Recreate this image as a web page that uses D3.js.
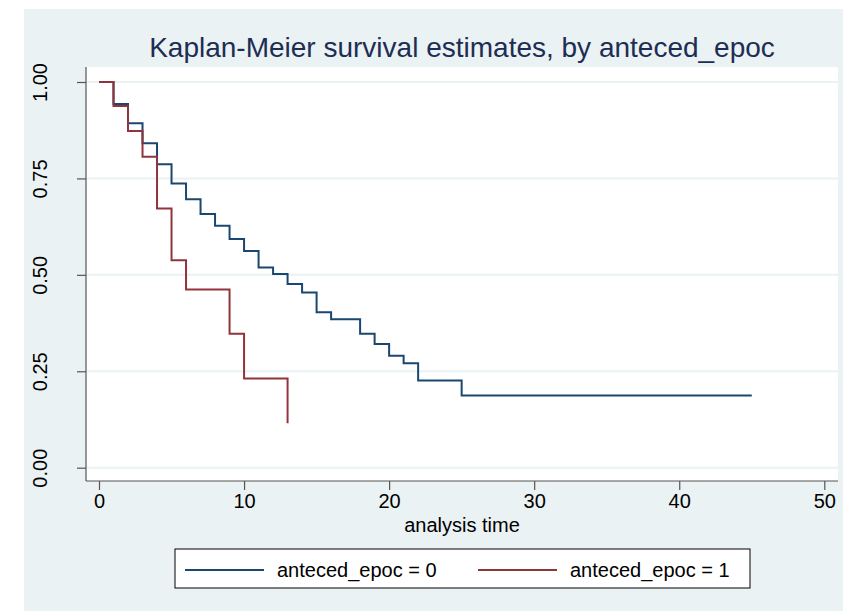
<!DOCTYPE html>
<html>
<head>
<meta charset="utf-8">
<script src="https://cdn.jsdelivr.net/npm/d3@7"></script>
<style>
  body { margin: 0; background: #ffffff; }
  text { font-family: "Liberation Sans", Arial, sans-serif; }
</style>
</head>
<body>
<div class="forSvg"></div>
<script>
// size of the page
const svg_w = 848;
const svg_h = 611;

// plot region (white box) edges
const plotLeft = 86;
const plotRight = 838;
const plotTop = 67;
const plotBottom = 481;

// data
const timesGroup0 = [0, 1, 2, 3, 4, 5, 6, 7, 8, 9, 10, 11, 12, 13, 14, 15, 16, 18, 19, 20, 21, 22, 25, 45];
const survGroup0 = [1, 0.943, 0.893, 0.841, 0.787, 0.737, 0.696, 0.658, 0.627, 0.593, 0.562, 0.519, 0.502, 0.476, 0.454, 0.403, 0.385, 0.347, 0.321, 0.290, 0.271, 0.226, 0.187, 0.187];
const timesGroup1 = [0, 1, 2, 3, 4, 5, 6, 9, 10, 13];
const survGroup1 = [1, 0.938, 0.873, 0.806, 0.672, 0.538, 0.462, 0.347, 0.231, 0.115];

const xTicks = [0, 10, 20, 30, 40, 50];
const yTicks = [0, 0.25, 0.5, 0.75, 1];
const legendLabels = ["anteced_epoc = 0", "anteced_epoc = 1"];
const lineColors = ["#1a476f", "#90353b"];

const xScale = d3.scaleLinear()
                .domain([0, 50])
                .range([99, 824.3]);

const yScale = d3.scaleLinear()
                .domain([0, 1])
                .range([467.7, 82]);

const svg = d3.select(".forSvg")
                .append("svg")
                .attr("width", svg_w)
                .attr("height", svg_h);

// light graph region
svg.append("rect")
    .attr("x", 24).attr("y", 9)
    .attr("width", 819).attr("height", svg_h - 9)
    .attr("fill", "#eaf2f3");

// white plot region
svg.append("rect")
    .attr("x", plotLeft).attr("y", plotTop)
    .attr("width", plotRight - plotLeft).attr("height", plotBottom - plotTop)
    .attr("fill", "#ffffff");

// grid lines
svg.selectAll(".grid")
    .data(yTicks)
    .enter()
    .append("line")
    .attr("class", "grid")
    .attr("x1", plotLeft).attr("x2", plotRight)
    .attr("y1", d => yScale(d)).attr("y2", d => yScale(d))
    .attr("stroke", "#eaf2f3")
    .attr("stroke-width", 2);

// x axis
const xAxis = d3.axisBottom(xScale)
                .tickValues(xTicks)
                .tickSize(9)
                .tickSizeOuter(0)
                .tickPadding(4);

const gx = svg.append("g")
    .attr("transform", "translate(0," + plotBottom + ")")
    .call(xAxis);
gx.select(".domain").remove();
gx.selectAll("line").attr("stroke", "#555").attr("stroke-width", 1.2);
gx.selectAll("text")
    .attr("font-size", 20)
    .attr("fill", "#000")
    .attr("font-family", "Liberation Sans, Arial, sans-serif");

// y axis, labels turned
const yAxis = d3.axisLeft(yScale)
                .tickValues(yTicks)
                .tickSize(9)
                .tickSizeOuter(0)
                .tickFormat(d3.format(".2f"));

const gy = svg.append("g")
    .attr("transform", "translate(" + plotLeft + ",0)")
    .call(yAxis);
gy.select(".domain").remove();
gy.selectAll("line").attr("stroke", "#555").attr("stroke-width", 1.2);
gy.selectAll("text")
    .attr("font-size", 20)
    .attr("fill", "#000")
    .attr("font-family", "Liberation Sans, Arial, sans-serif")
    .attr("text-anchor", "middle")
    .attr("x", 0)
    .attr("dy", 0)
    .attr("transform", "translate(-46,0) rotate(-90) translate(0,7)");

// axis lines
svg.append("line")
    .attr("x1", plotLeft).attr("x2", plotRight)
    .attr("y1", plotBottom).attr("y2", plotBottom)
    .attr("stroke", "#555").attr("stroke-width", 1.2);
svg.append("line")
    .attr("x1", plotLeft).attr("x2", plotLeft)
    .attr("y1", plotTop).attr("y2", plotBottom)
    .attr("stroke", "#555").attr("stroke-width", 1.2);

// survival steps
const stepLine = d3.line()
                .x(d => xScale(d[0]))
                .y(d => yScale(d[1]))
                .curve(d3.curveStepAfter);

const series = [
    d3.zip(timesGroup0, survGroup0),
    d3.zip(timesGroup1, survGroup1)
];

svg.selectAll(".km")
    .data(series)
    .enter()
    .append("path")
    .attr("class", "km")
    .attr("d", d => stepLine(d))
    .attr("fill", "none")
    .attr("stroke", (d, i) => lineColors[i])
    .attr("stroke-width", 2);

// title
svg.append("text")
    .attr("x", (plotLeft + plotRight) / 2)
    .attr("y", 57)
    .attr("text-anchor", "middle")
    .attr("font-size", 28)
    .attr("fill", "#1e2d53")
    .text("Kaplan-Meier survival estimates, by anteced_epoc");

// x axis title
svg.append("text")
    .attr("x", (plotLeft + plotRight) / 2)
    .attr("y", 532)
    .attr("text-anchor", "middle")
    .attr("font-size", 20)
    .attr("fill", "#000")
    .text("analysis time");

// legend
const legend = svg.append("g");
legend.append("rect")
    .attr("x", 175).attr("y", 549)
    .attr("width", 575).attr("height", 39)
    .attr("fill", "#ffffff")
    .attr("stroke", "#000")
    .attr("stroke-width", 1);

const legendX = [185, 478];
legendLabels.forEach((lab, i) => {
    legend.append("line")
        .attr("x1", legendX[i]).attr("x2", legendX[i] + 79)
        .attr("y1", 570).attr("y2", 570)
        .attr("stroke", lineColors[i])
        .attr("stroke-width", 2);
    legend.append("text")
        .attr("x", legendX[i] + 92)
        .attr("y", 577)
        .attr("font-size", 20)
        .attr("fill", "#000")
        .text(lab);
});
</script>
</body>
</html>
